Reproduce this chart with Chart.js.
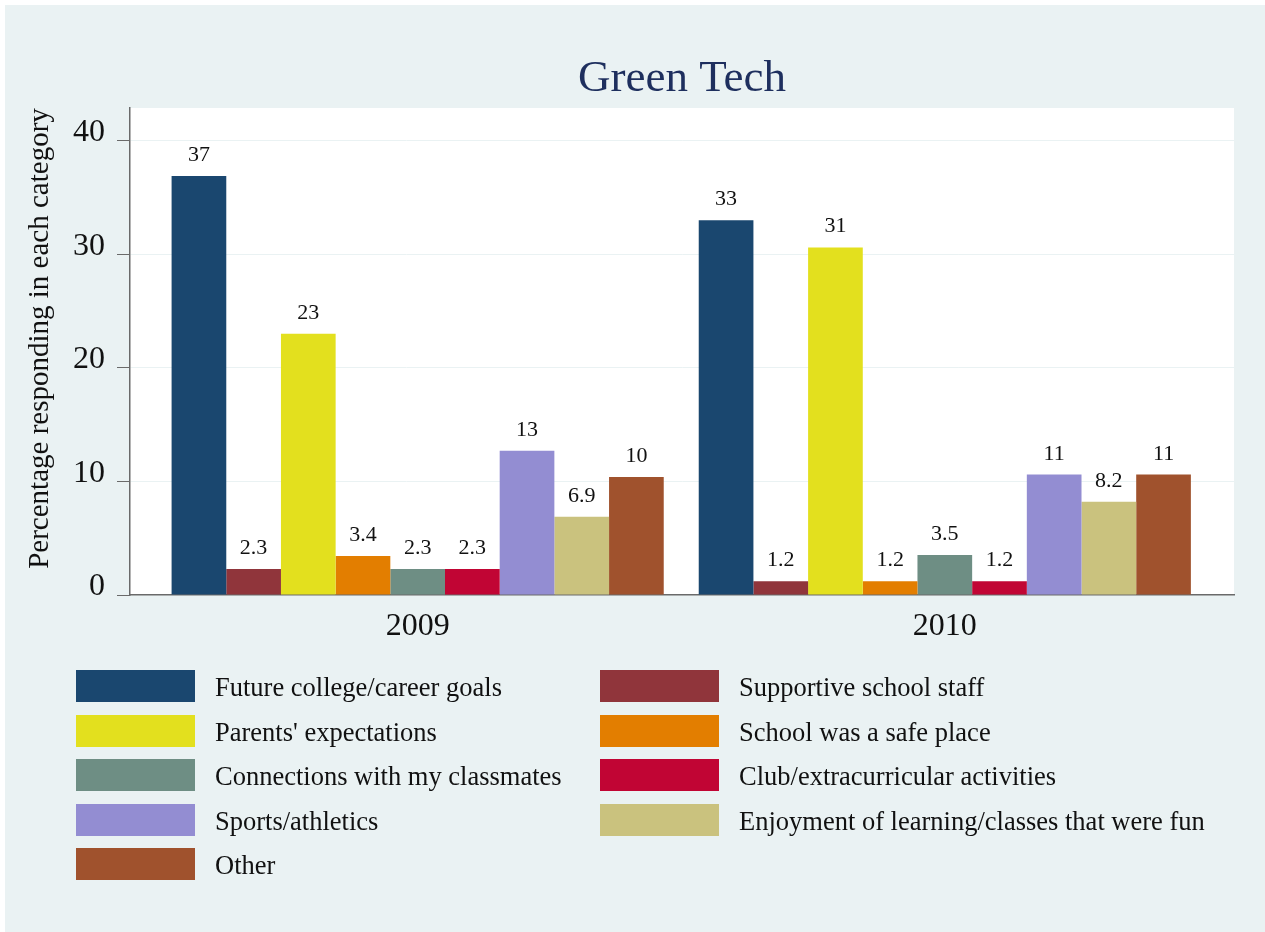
<!DOCTYPE html>
<html>
<head>
<meta charset="utf-8">
<script src="https://cdn.jsdelivr.net/npm/chart.js@4.4.1/dist/chart.umd.min.js"></script>
<style>
html,body{margin:0;padding:0;background:#ffffff;}
#wrap{position:absolute;left:5px;top:5px;width:1260px;height:927px;background:#EAF2F3;overflow:hidden;}
#c{position:absolute;left:0;top:0;}
#legend{position:absolute;left:71px;top:665px;display:grid;grid-template-columns:524px auto;row-gap:12.6px;font-family:'Liberation Serif','Times New Roman',serif;font-size:26.5px;color:#111;}
.item{display:flex;align-items:center;height:32px;white-space:nowrap;}
.sw{width:119px;height:32px;margin-right:20px;flex:none;}
.tx{position:relative;top:1.5px;}
</style>
</head>
<body>
<div id="wrap">
<canvas id="c" width="1260" height="927"></canvas>
<div id="legend"></div>
</div>
<script>
// ---- data ----
const years = ['2009', '2010'];
const yTicks = [0, 10, 20, 30, 40];
const yTitle = 'Percentage responding in each category';
const seriesNames = [
  'Future college/career goals',
  'Supportive school staff',
  "Parents' expectations",
  'School was a safe place',
  'Connections with my classmates',
  'Club/extracurricular activities',
  'Sports/athletics',
  'Enjoyment of learning/classes that were fun',
  'Other'
];
const futureGoals   = [36.9, 33.0];
const supportStaff  = [2.3, 1.2];
const parentsExpect = [23.0, 30.6];
const safePlace     = [3.44, 1.2];
const connections   = [2.3, 3.53];
const clubs         = [2.3, 1.2];
const sports        = [12.7, 10.6];
const enjoyment     = [6.9, 8.2];
const other         = [10.4, 10.6];
const seriesValues = [futureGoals, supportStaff, parentsExpect, safePlace, connections, clubs, sports, enjoyment, other];

// ---- styles ----
const colors = ['#1A476F', '#90353B', '#E3E01E', '#E37E00', '#6E8E84', '#C10534', '#938DD2', '#CAC27E', '#A0522D'];
const serif = "'Liberation Serif', 'Times New Roman', serif";
const axisGray = '#6A6A6A';

function fmt(v) { return String(Number(v.toPrecision(2))); }

const datasets = seriesNames.map((name, i) => ({
  label: name,
  data: seriesValues[i].map((v, j) => ({ x: j, y: v })),
  backgroundColor: colors[i],
  borderWidth: 0,
  categoryPercentage: 0.9336,
  barPercentage: 1.0
}));

const plotBg = {
  id: 'plotBg',
  beforeDraw(chart) {
    const a = chart.chartArea, ctx = chart.ctx;
    ctx.save();
    ctx.fillStyle = '#ffffff';
    ctx.fillRect(a.left, a.top, a.right - a.left, a.bottom - a.top);
    ctx.restore();
  }
};

const valueLabels = {
  id: 'valueLabels',
  afterDatasetsDraw(chart) {
    const ctx = chart.ctx;
    ctx.save();
    ctx.font = '22px ' + serif;
    ctx.fillStyle = '#111';
    ctx.textAlign = 'center';
    ctx.textBaseline = 'alphabetic';
    chart.data.datasets.forEach((ds, i) => {
      chart.getDatasetMeta(i).data.forEach((el, j) => {
        ctx.fillText(fmt(ds.data[j].y), el.x, el.y - 15);
      });
    });
    ctx.restore();
  }
};

// y-axis title, drawn slightly above the axis centre as in the reference
const yTitlePlugin = {
  id: 'yTitlePlugin',
  afterDraw(chart) {
    const ctx = chart.ctx, a = chart.chartArea, s = chart.scales.y;
    ctx.save();
    ctx.translate(s.left + 35, (a.top + a.bottom) / 2 - 13);
    ctx.rotate(-Math.PI / 2);
    ctx.font = '29px ' + serif;
    ctx.fillStyle = '#111';
    ctx.textAlign = 'center';
    ctx.textBaseline = 'middle';
    ctx.fillText(yTitle, 0, 0);
    ctx.restore();
  }
};

const chart = new Chart(document.getElementById('c'), {
  type: 'bar',
  data: { datasets },
  plugins: [plotBg, valueLabels, yTitlePlugin],
  options: {
    responsive: false,
    devicePixelRatio: 1,
    animation: false,
    layout: { padding: { left: 0, right: 31, top: 0, bottom: 0 } },
    plugins: {
      legend: { display: false },
      tooltip: { enabled: false },
      title: {
        display: true,
        text: 'Green Tech',
        fullSize: false,
        color: '#1E2F5E',
        font: { family: serif, size: 45, weight: 'normal' },
        padding: { top: 46.8, bottom: 2.2 }
      }
    },
    scales: {
      x: {
        type: 'linear',
        min: -0.5457,
        max: 1.5486,
        offset: false,
        grid: { display: false, drawTicks: false },
        border: { display: true, color: axisGray, width: 1.5 },
        afterBuildTicks(scale) { scale.ticks = years.map((_, i) => ({ value: i })); },
        afterFit(scale) { scale.height = 337; },
        ticks: {
          padding: 12.3,
          color: '#111',
          font: { family: serif, size: 32 },
          callback: (v) => years[v] !== undefined ? years[v] : ''
        }
      },
      y: {
        min: 0,
        max: 42.88,
        afterBuildTicks(scale) { scale.ticks = yTicks.map(v => ({ value: v })); },
        afterFit(scale) { scale.width = 125; },
        grid: { color: '#EAF2F3', lineWidth: 1, tickColor: axisGray, tickLength: 13, drawTicks: true },
        border: { display: true, color: axisGray, width: 1.5 },
        ticks: {
          padding: 12,
          labelOffset: -8,
          color: '#111',
          font: { family: serif, size: 32 }
        },
        title: { display: false }
      }
    }
  }
});

// HTML legend built from the chart's datasets (2 columns, row-major)
const legendEl = document.getElementById('legend');
chart.data.datasets.forEach(ds => {
  const item = document.createElement('div');
  item.className = 'item';
  const sw = document.createElement('span');
  sw.className = 'sw';
  sw.style.background = ds.backgroundColor;
  const tx = document.createElement('span');
  tx.className = 'tx';
  tx.textContent = ds.label;
  item.appendChild(sw);
  item.appendChild(tx);
  legendEl.appendChild(item);
});
</script>
</body>
</html>
